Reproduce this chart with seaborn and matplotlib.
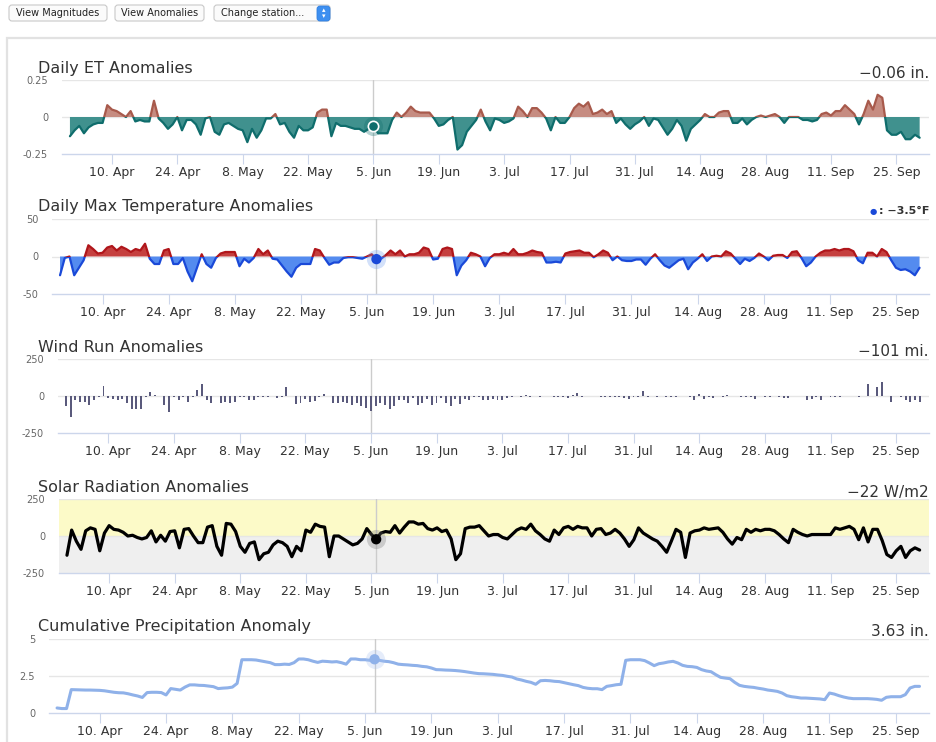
import numpy as np
import pandas as pd
import matplotlib
matplotlib.use("Agg")
import matplotlib.pyplot as plt
import seaborn as sns
from matplotlib.patches import Rectangle, FancyBboxPatch

# ---------------- data ----------------
start_date = "2017-04-01"
end_date = "2017-09-30"
tick_start = "2017-04-10"
tick_labels = ["10. Apr", "24. Apr", "8. May", "22. May", "5. Jun", "19. Jun",
               "3. Jul", "17. Jul", "31. Jul", "14. Aug", "28. Aug", "11. Sep", "25. Sep"]

et_anomaly = [
    -0.13, -0.09, -0.06, -0.11, -0.07, -0.05, -0.04, -0.04, 0.08, 0.05,
    0.04, 0.02, 0.00, 0.04, -0.03, -0.02, -0.03, -0.03, 0.11, -0.01,
    -0.04, -0.08, -0.05, 0.00, -0.09, -0.02, -0.02, -0.05, -0.12, -0.01,
    0.00, -0.10, -0.12, -0.05, -0.04, -0.06, -0.08, -0.09, -0.17, -0.08,
    -0.14, -0.09, -0.01, -0.01, 0.02, -0.05, -0.04, -0.10, -0.14, -0.06,
    -0.09, -0.09, -0.07, 0.03, 0.05, 0.05, -0.13, -0.04, -0.06, -0.06,
    -0.07, -0.08, -0.08, -0.10, -0.08, -0.06, -0.11, -0.11, -0.11, -0.02,
    0.03, 0.00, 0.03, 0.07, 0.04, 0.03, 0.03, 0.03, -0.01, -0.06,
    -0.05, -0.02, 0.00, -0.22, -0.19, -0.10, -0.06, -0.02, 0.05, -0.03,
    -0.09, -0.01, -0.02, -0.04, -0.03, -0.01, 0.07, 0.04, 0.00, 0.06,
    0.06, 0.03, -0.01, -0.09, 0.00, -0.04, -0.04, 0.00, 0.06, 0.09,
    0.07, 0.10, 0.02, 0.03, 0.05, 0.02, 0.04, -0.04, -0.01, -0.05,
    -0.08, -0.05, -0.03, 0.00, -0.06, -0.01, -0.02, -0.07, -0.12, -0.08,
    -0.02, -0.06, -0.16, -0.08, -0.05, -0.02, 0.02, 0.00, 0.00, 0.03,
    0.04, 0.04, -0.04, -0.04, -0.01, -0.05, -0.02, 0.00, 0.01, 0.00,
    0.01, 0.02, 0.00, -0.04, 0.00, 0.00, 0.00, -0.02, -0.02, -0.03,
    -0.02, 0.02, 0.03, 0.01, 0.04, 0.04, 0.08, 0.05, 0.02, -0.05,
    0.02, 0.11, 0.05, 0.15, 0.13, -0.09, -0.12, -0.12, -0.10, -0.15,
    -0.15, -0.12, -0.14]

tmax_anomaly = [
    -25, -2, 0, -25, -15, -5, 15, 10, 4, 5,
    12, 14, 8, 13, 10, 6, 10, 8, 17, -3,
    -10, -10, 8, 10, -10, -10, -2, -20, -33, -15,
    3, -10, -15, -2, 4, 6, 6, 6, -13, -3,
    -8, -2, 10, 3, 8, -3, -4, -12, -20, -27,
    -15, -10, -10, -10, 10, 8, -2, -11, -8, -8,
    -2, -1, -1, -2, -3, 0, 3, -3.5, -3, 2,
    8, 3, 8, 0, 3, 3, 5, 12, 10, -4,
    -3, 10, 12, 10, -25, -12, -5, 5, 3, 0,
    -13, -2, 3, 3, 5, 3, 10, 3, 3, 5,
    8, 6, 5, -8, -8, -7, -8, 4, 6, 7,
    8, 5, 5, -1, 3, 8, 5, -5, 0, -5,
    -6, -6, -4, -4, -11, -3, 3, -5, -12, -15,
    -10, -5, -3, -17, -8, -3, 3, -6, 0, 1,
    0, 7, 4, -3, -10, -3, -6, -2, 4, 0,
    -5, 1, 2, 2, -2, 6, 7, -2, -13, -8,
    0, 5, 8, 8, 10, 8, 10, 10, 7, -5,
    -9, 5, 5, 0, 10, 6, -5, -15, -18, -17,
    -20, -25, -15]

wind_anomaly = [
    -65, -145, -30, -40, -40, -60, -30, -5, 70, -15,
    -20, -30, -20, -50, -90, -90, -85, -5, 25, 5,
    0, -60, -110, -10, -25, -5, -40, -10, 40, 80,
    -25, -45, 0, -50, -40, -45, -40, -10, -5, -30,
    -30, -10, -5, -5, 0, -15, -5, 60, 0, -55,
    -45, -20, -40, -35, -10, 15, 0, -50, -45, -40,
    -50, -60, -45, -70, -80, -101, -70, -50, -60, -85,
    -70, -30, -25, -45, -15, -60, -45, -20, -60, -45,
    -15, -50, -65, -20, -55, -20, -30, -10, -10, -30,
    -25, -20, -30, -30, -15, -10, 0, -10, 5, -10,
    0, -5, 0, 0, -10, -5, -10, -15, 10, 20,
    -5, 0, 0, 0, -5, -5, -5, -10, -10, -15,
    -20, -10, -5, 35, -5, 0, -5, 0, -10, -10,
    -10, 0, 0, -10, -25, 15, -20, -10, -15, 0,
    -5, 5, 0, 0, -5, -5, -5, -20, 0, -5,
    -5, 0, -10, -15, -15, 0, 0, 0, -25, -20,
    -5, -25, 0, -5, -5, -5, 0, 0, 0, -5,
    0, 80, 0, 60, 95, 0, -40, 0, -10, -25,
    -40, -30, -40]

solar_anomaly = [
    -130, 40, -35, -90, 35, 55, 45, -100, 20, 70,
    45, 40, 25, 0, 5, -10, -20, -10, 35, -40,
    5, -35, 30, 35, -80, 45, 50, 0, -45, -45,
    60, 70, -70, -130, 85, 80, 30, -70, -110, -50,
    -40, -160, -120, -110, -60, -35, -45, -70, -140, -70,
    -100, 40, 25, 80, 65, 60, -140, 0, 0, -20,
    -40, -60, -50, -20, 50, 10, -22, 20, 30, 25,
    70, 20, 60, 95, 95, 80, 85, 50, 40, 55,
    30, 40, -20, -160, -120, 50, 60, 60, 70, 35,
    0, 10, 10, -10, -20, 10, 40, 55, 45, 80,
    35, 10, -20, -35, 40, 10, 55, 65, 45, 65,
    55, 55, 0, 45, 50, 10, 20, 45, 20, -20,
    -70, -25, 55, 20, 0, -20, -35, -70, -110, -35,
    45, 25, -145, 20, 35, 40, 55, 45, 50, 55,
    25, -20, -55, -10, -25, 45, 25, 45, 35, 45,
    45, 35, 10, -20, -45, 45, 25, 10, 0, 10,
    10, 10, 10, 10, 55, 45, 55, 65, 45, -25,
    55, -40, 45, 45, -30, -125, -145, -100, -70, -145,
    -100, -80, -95]

precip_cum_anomaly = [
    0.34, 0.30, 0.30, 1.58, 1.57, 1.56, 1.55, 1.55, 1.54, 1.53,
    1.50, 1.45, 1.40, 1.37, 1.36, 1.30, 1.22, 1.15, 1.05, 1.38,
    1.40, 1.40, 1.38, 1.22, 1.65, 1.60, 1.55, 1.75, 1.90, 1.90,
    1.87, 1.86, 1.82, 1.78, 1.65, 1.68, 1.70, 1.75, 2.00, 3.60,
    3.60, 3.60, 3.58, 3.52, 3.46, 3.40, 3.27, 3.27, 3.30, 3.28,
    3.40, 3.65, 3.65, 3.60, 3.50, 3.42, 3.50, 3.48, 3.45, 3.47,
    3.40, 3.30, 3.65, 3.65, 3.60, 3.60, 3.56, 3.63, 3.56, 3.50,
    3.47, 3.40, 3.30, 3.27, 3.25, 3.22, 3.20, 3.15, 3.12, 3.04,
    2.93, 2.92, 2.90, 2.89, 2.87, 2.84, 2.80, 2.75, 2.70, 2.66,
    2.65, 2.63, 2.61, 2.57, 2.54, 2.48, 2.43, 2.30, 2.23, 2.14,
    2.07, 1.94, 2.18, 2.20, 2.18, 2.14, 2.12, 2.05, 1.98, 1.91,
    1.85, 1.73, 1.67, 1.64, 1.64, 1.58, 1.80, 1.85, 1.91, 1.94,
    3.56, 3.60, 3.60, 3.60, 3.54, 3.38, 3.20, 3.33, 3.38, 3.45,
    3.49, 3.38, 3.22, 3.15, 3.13, 3.08, 2.93, 2.84, 2.79, 2.59,
    2.41, 2.36, 2.32, 2.07, 1.87, 1.80, 1.76, 1.73, 1.67, 1.62,
    1.55, 1.51, 1.46, 1.35, 1.17, 1.10, 1.06, 1.01, 1.01, 0.99,
    0.97, 0.95, 0.90, 1.35, 1.28, 1.17, 1.08, 1.01, 0.97, 0.97,
    0.97, 0.97, 0.95, 0.92, 0.86, 1.06, 1.10, 1.10, 1.10, 1.24,
    1.69, 1.80, 1.80]

panel_titles = ["Daily ET Anomalies", "Daily Max Temperature Anomalies",
                "Wind Run Anomalies", "Solar Radiation Anomalies",
                "Cumulative Precipitation Anomaly"]
readouts = ["\u22120.06 in.", ": \u22123.5\u00b0F", "\u2212101 mi.", "\u221222 W/m2", "3.63 in."]
hover_dates = ["2017-06-05", "2017-06-07", "2017-06-05", "2017-06-06", "2017-06-07"]
y_ranges = [(-0.25, 0.25), (-50, 50), (-250, 250), (-250, 250), (0, 5)]
y_ticks = [[-0.25, 0, 0.25], [-50, 0, 50], [-250, 0, 250], [-250, 0, 250], [0, 2.5, 5]]
y_ticklabels = [["-0.25", "0", "0.25"], ["-50", "0", "50"], ["-250", "0", "250"],
                ["-250", "0", "250"], ["0", "2.5", "5"]]
button_labels = ["View Magnitudes", "View Anomalies", "Change station..."]

# ---------------- setup ----------------
sns.set_theme(style="white")
plt.rcParams["font.family"] = ["DejaVu Sans"]

W, H = 937, 742
fig = plt.figure(figsize=(W / 100, H / 100), dpi=100)
fig.patch.set_facecolor("white")

dates = pd.date_range(start_date, end_date, freq="D")
day = np.asarray((dates - dates[0]).days, dtype=float)
tick_days = np.asarray((pd.date_range(tick_start, periods=len(tick_labels), freq="14D") - dates[0]).days)
hover_idx = np.asarray((pd.to_datetime(hover_dates) - dates[0]).days)
XLIM = (-1.7, 184.0)

# pixel layout (left, top, bottom) per panel
layout = [(62, 80, 154), (52, 219, 294), (58, 359, 433), (59, 499, 573), (49, 639, 713)]
RIGHT = 929


def px_inch(x, y):
    return x / 100, (H - y) / 100


# top buttons + container frame
frame = Rectangle(px_inch(7, 800), (960 - 7) / 100, (800 - 38) / 100, transform=fig.dpi_scale_trans,
                  fill=False, edgecolor="#e2e2e2", lw=1.6)
fig.patches.append(frame)
buttons = [(9, 107), (115, 204), (214, 330)]
for (x0, x1), lab in zip(buttons, button_labels):
    b = FancyBboxPatch(px_inch(x0, 21), (x1 - x0) / 100, 16 / 100,
                       boxstyle="round,pad=0,rounding_size=0.03",
                       transform=fig.dpi_scale_trans, facecolor="#fbfbfb",
                       edgecolor="#c9c9c9", lw=0.8)
    fig.patches.append(b)
cx = [(9 + 107) / 2, (115 + 204) / 2, 263]
for c, lab in zip(cx, button_labels):
    fig.text(c / W, 1 - 13.5 / H, lab, ha="center", va="center", fontsize=7, color="#222222")
icon = FancyBboxPatch(px_inch(317, 21), 13 / 100, 15 / 100,
                      boxstyle="round,pad=0,rounding_size=0.03",
                      transform=fig.dpi_scale_trans, facecolor="#3d8ff0", edgecolor="#2f7fe0", lw=0.6)
fig.patches.append(icon)
fig.text(323.5 / W, 1 - 10.5 / H, "\u25b4", ha="center", va="center", fontsize=5, color="white")
fig.text(323.5 / W, 1 - 16 / H, "\u25be", ha="center", va="center", fontsize=5, color="white")


def make_ax(i):
    l, t, b = layout[i]
    return fig.add_axes([l / W, 1 - b / H, (RIGHT - l) / W, (b - t) / H])


def style(ax, i):
    lo, hi = y_ranges[i]
    ax.set_xlim(*XLIM)
    ax.set_ylim(lo, hi)
    ax.set_facecolor("none")
    for s in ["top", "left", "right"]:
        ax.spines[s].set_visible(False)
    ax.spines["bottom"].set_color("#ccd6eb")
    ax.spines["bottom"].set_linewidth(1)
    ax.spines["bottom"].set_zorder(1)
    ax.set_yticks(y_ticks[i])
    ax.set_yticklabels(y_ticklabels[i])
    ax.set_xticks(tick_days)
    ax.set_xticklabels(tick_labels)
    for yv in y_ticks[i][1:]:
        ax.axhline(yv, color="#e6e6e6", lw=1, zorder=0.5)
    ax.tick_params(axis="x", direction="out", length=7, width=0.8, color="#ccd6eb",
                   labelsize=9, labelcolor="#333333", pad=1.5, bottom=True)
    ax.tick_params(axis="y", length=0, labelsize=7, labelcolor="#666666", pad=10)
    ax.set_xlabel("")
    ax.set_ylabel("")
    ax.axvline(day[hover_idx[i]], color="#cccccc", lw=1, zorder=1)
    ax.grid(False)


def signed_line(ax, y, pos_col, neg_col, lw):
    for col, (y0, y1) in [(pos_col, (0, 1e4)), (neg_col, (-1e4, 0))]:
        sns.lineplot(x=day, y=y, ax=ax, color=col, linewidth=lw, estimator=None, sort=False, zorder=3)
        line = ax.lines[-1]
        clip = Rectangle((-100, y0), 500, y1 - y0, transform=ax.transData)
        line.set_clip_path(clip)


def hover_marker(ax, i, y, col, halo_col, edge="none"):
    xv = day[hover_idx[i]]
    yv = y[hover_idx[i]]
    ax.scatter([xv], [yv], s=190, color=halo_col, alpha=0.3, lw=0, zorder=4)
    ax.scatter([xv], [yv], s=55, color=col, edgecolors=edge, linewidths=1.2, zorder=5)


# ---- panel 1: ET ----
ax = make_ax(0)
et = np.array(et_anomaly)
ax.fill_between(day, et, 0, where=et >= 0, interpolate=True, color="#c68c81", lw=0, zorder=2)
ax.fill_between(day, et, 0, where=et <= 0, interpolate=True, color="#40918e", lw=0, zorder=2)
signed_line(ax, et, "#a85a4c", "#0f6d6c", 1.6)
style(ax, 0)
hover_marker(ax, 0, et, "#0f6d6c", "#0f6d6c", edge="white")

# ---- panel 2: Max temp ----
ax = make_ax(1)
tm = np.array(tmax_anomaly, dtype=float)
ax.fill_between(day, tm, 0, where=tm >= 0, interpolate=True, color="#c5403f", lw=0, zorder=2)
ax.fill_between(day, tm, 0, where=tm <= 0, interpolate=True, color="#548bef", lw=0, zorder=2)
signed_line(ax, tm, "#b0161b", "#1a49d8", 1.6)
style(ax, 1)
hover_marker(ax, 1, tm, "#1a49d8", "#6f9cf0")

# ---- panel 3: Wind ----
ax = make_ax(2)
wd = np.array(wind_anomaly, dtype=float)
sns.barplot(x=day, y=wd, native_scale=True, width=0.42, color="#5a5a7c", saturation=1,
            errorbar=None, linewidth=0, ax=ax, zorder=3)
style(ax, 2)

# ---- panel 4: Solar ----
ax = make_ax(3)
so = np.array(solar_anomaly, dtype=float)
ax.axhspan(0, 250, color="#fcfac8", lw=0, zorder=0.2)
ax.axhspan(-250, 0, color="#efefef", lw=0, zorder=0.2)
sns.lineplot(x=day, y=so, ax=ax, color="black", linewidth=2.3, estimator=None, sort=False, zorder=3)
style(ax, 3)
hover_marker(ax, 3, so, "black", "#777777")

# ---- panel 5: Precip ----
ax = make_ax(4)
pc = np.array(precip_cum_anomaly, dtype=float)
sns.lineplot(x=day, y=pc, ax=ax, color="#8fb1e9", linewidth=2.2, estimator=None, sort=False, zorder=3)
style(ax, 4)
hover_marker(ax, 4, pc, "#8fb1e9", "#a9c3f0")

# ---- titles and readouts ----
for i, t in enumerate(panel_titles):
    l, top, b = layout[i]
    fig.text(38 / W, 1 - (top - 7.5) / H, t, ha="left", va="baseline", fontsize=11.5, color="#333333")
for i in [0, 2, 3, 4]:
    top = layout[i][1]
    fig.text(929 / W, 1 - (top - 2.5) / H, readouts[i], ha="right", va="baseline",
             fontsize=11, color="#333333")
fig.text(929 / W, 1 - 214 / H, readouts[1], ha="right", va="baseline", fontsize=8,
         fontweight="bold", color="#333333")
fig.text(873 / W, 1 - 214 / H, "\u25cf", ha="center", va="baseline", fontsize=6, color="#1a49d8")

fig.savefig("out.png", dpi=100, facecolor="white")
